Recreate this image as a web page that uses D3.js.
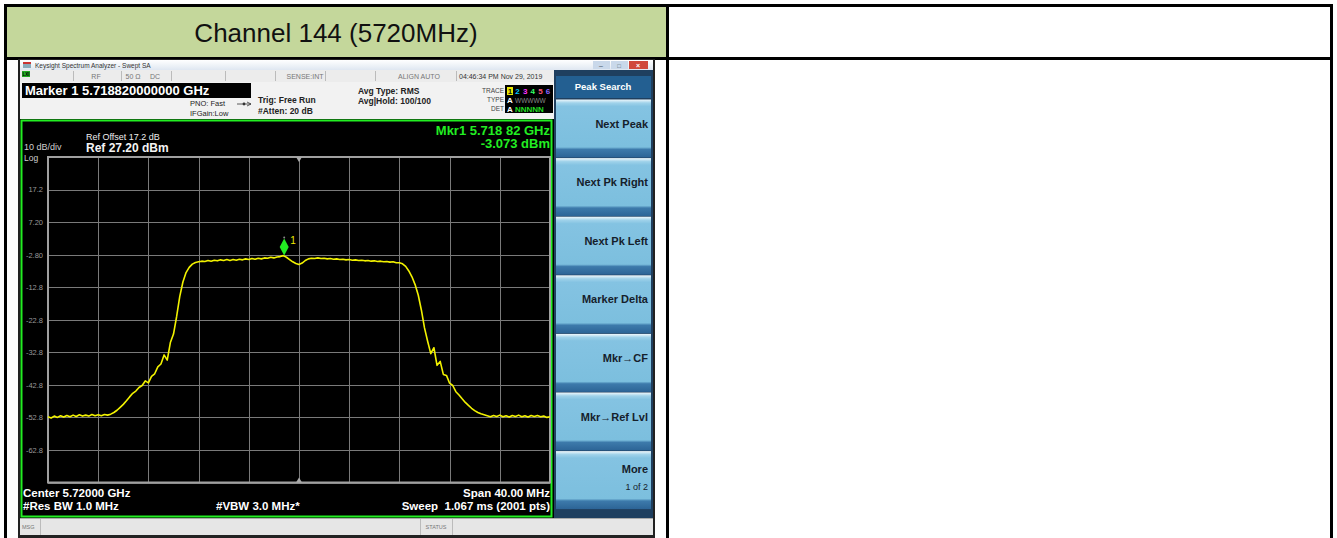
<!DOCTYPE html>
<html><head><meta charset="utf-8">
<script src="https://cdn.jsdelivr.net/npm/d3@7"></script>
<style>body{margin:0;background:#fff}svg{display:block}</style>
</head><body>
<svg id="c" width="1337" height="538"></svg>
<script>
// ---------------- data ----------------
const headerTitle = "Channel 144 (5720MHz)";
const centerGHz = 5.72;
const spanMHz = 40;
const refLevelDbm = 27.2;
const dbPerDiv = 10;
const numDivs = 10;
const yTickValues = [17.2, 7.2, -2.8, -12.8, -22.8, -32.8, -42.8, -52.8, -62.8];
const yTickLabels = ["17.2", "7.20", "-2.80", "-12.8", "-22.8", "-32.8", "-42.8", "-52.8", "-62.8"];
const traceStepMHz = 0.25; // offset from start frequency, per sample
const traceDbm = [
  -52.6,-53.0,-52.4,-52.8,-52.3,-52.7,-52.2,-52.6,-52.1,-52.5,-52.0,-52.4,-52.1,-52.4,-51.9,-52.3,-52.0,-52.3,-51.9,-52.1,
  -51.8,-51.3,-50.6,-49.7,-48.8,-47.7,-46.5,-45.4,-44.7,-43.6,-43.0,-41.6,-42.2,-40.2,-39.4,-37.3,-36.4,-33.6,-35.2,-29.8,
  -27.2,-21.8,-15.6,-11.2,-8.3,-6.7,-5.7,-5.2,-5.0,-4.8,-4.9,-4.6,-4.8,-4.5,-4.7,-4.4,-4.6,-4.3,-4.6,-4.3,
  -4.5,-4.2,-4.4,-4.1,-4.3,-4.0,-4.2,-3.9,-4.1,-3.8,-3.9,-3.6,-3.8,-3.5,-3.4,-3.1,-3.6,-4.3,-5.0,-5.5,
  -5.8,-5.4,-4.6,-4.1,-3.9,-4.0,-3.8,-4.0,-3.9,-4.1,-4.0,-4.2,-4.1,-4.3,-4.2,-4.4,-4.3,-4.5,-4.4,-4.6,
  -4.5,-4.7,-4.6,-4.8,-4.7,-4.9,-4.8,-5.0,-4.9,-5.1,-5.0,-5.3,-5.3,-5.6,-6.4,-7.8,-9.6,-12.0,-15.2,-19.8,
  -25.3,-29.4,-33.2,-31.4,-36.8,-35.6,-39.6,-39.9,-42.3,-43.0,-44.9,-45.9,-47.1,-48.2,-49.1,-50.0,-50.7,-51.3,-51.7,-52.0,
  -52.3,-52.6,-52.2,-52.5,-52.1,-52.6,-52.3,-52.7,-52.2,-52.5,-52.1,-52.6,-52.3,-52.7,-52.2,-52.5,-52.2,-52.6,-52.4,-52.8,
  -52.6
];
const markerFreqGHz = 5.71882;
const markerDbm = -3.073;
const softkeyLabels = ["Next Peak", "Next Pk Right", "Next Pk Left", "Marker Delta", "Mkr\u2192CF", "Mkr\u2192Ref Lvl", "More"];
const traceNums = ["1","2","3","4","5","6"];
const traceNumColors = ["#111","#00c8ff","#ff33ff","#33ff66","#ff5577","#8866ff"];

// ---------------- drawing ----------------
const svg = d3.select("#c");
const F = "'Liberation Sans', Arial, sans-serif";

// page table
svg.append("rect").attr("x",7).attr("y",7).attr("width",659).attr("height",50).attr("fill","#c4d79b");
const blk = (x,y,w,h,c)=>svg.append("rect").attr("x",x).attr("y",y).attr("width",w).attr("height",h).attr("fill",c||"#000");
blk(4,4,1329,3); blk(4,4,3,534); blk(1330,4,3,534); blk(4,57,1329,3); blk(666,4,3,534);
svg.append("text").attr("x",336).attr("y",42).attr("text-anchor","middle")
  .attr("font-family",F).attr("font-size",26).attr("fill","#111").text(headerTitle);

// analyzer window frame
const g = svg.append("g");
const r = (x,y,w,h,c)=>g.append("rect").attr("x",x).attr("y",y).attr("width",w).attr("height",h).attr("fill",c);
const t = (x,y,s,txt,o={})=>g.append("text").attr("x",x).attr("y",y).attr("font-family",F)
  .attr("font-size",s).attr("font-weight",o.b?"bold":"normal").attr("fill",o.c||"#222")
  .attr("text-anchor",o.a||"start").text(txt);

r(18,59,637,479,"#222");
// title bar
const tg = svg.append("defs").append("linearGradient").attr("id","tb").attr("x1",0).attr("y1",0).attr("x2",0).attr("y2",1);
tg.append("stop").attr("offset","0").attr("stop-color","#ffffff");
tg.append("stop").attr("offset","1").attr("stop-color","#dfe7f1");
r(20,60,633,10,"url(#tb)");
r(23,62,8,2,"#c33"); r(23,64,8,4,"#8ab");
t(35,68,6.5,"Keysight Spectrum Analyzer - Swept SA",{c:"#333"});
r(593,61,17,8,"#c9d8ea"); r(611,61,17,8,"#c9d8ea"); r(629,61,19,8,"#d0483c");
t(601,68,7,"\u2013",{c:"#456",a:"middle"}); t(619,68,6,"\u25a1",{c:"#456",a:"middle"}); t(638,68,7,"\u00d7",{c:"#fff",a:"middle",b:1});
// status row
r(20,70,534,12,"#ececec");
r(22,71,8,6,"#22aa22"); t(26,76,4.5,"LXI",{c:"#000",a:"middle",b:1});
[73,121,171,225,275,325,375,456].forEach(x=>r(x,71,1,10,"#bbb"));
t(96,79,7,"RF",{c:"#777",a:"middle"});
t(133,79,7,"50 \u03a9",{c:"#777",a:"middle"});
t(155,79,7,"DC",{c:"#777",a:"middle"});
t(305,79,7,"SENSE:INT",{c:"#777",a:"middle"});
t(419,79,7,"ALIGN AUTO",{c:"#777",a:"middle"});
t(459,79,7,"04:46:34 PM Nov 29, 2019",{c:"#333"});
// info area
r(20,82,534,37,"#f2f2f2");
r(22,83,229,15,"#000");
t(25,95,13,"Marker 1 5.718820000000 GHz",{c:"#fff",b:1});
t(190,106,7.5,"PNO: Fast",{c:"#222"});
t(190,116,7.5,"IFGain:Low",{c:"#222"});
g.append("path").attr("d","M237,104 H251 M247,102 L251,104 L247,106").attr("stroke","#333").attr("fill","none").attr("stroke-width",0.8);
g.append("circle").attr("cx",244).attr("cy",104).attr("r",1.4).attr("fill","#333");
t(258,103,8.5,"Trig: Free Run",{b:1});
t(258,114,8.5,"#Atten: 20 dB",{b:1});
t(358,94,8.5,"Avg Type: RMS",{b:1});
t(358,104,8.5,"Avg|Hold: 100/100",{b:1});
t(504,93,6.5,"TRACE",{c:"#444",a:"end"});
t(504,102,6.5,"TYPE",{c:"#444",a:"end"});
t(504,111,6.5,"DET",{c:"#444",a:"end"});
r(505,85,48,28,"#000");
r(507,87,6,8,"#e8e800");
traceNums.forEach((n,i)=>t(510+i*7.6,94,8,n,{c:traceNumColors[i],a:"middle",b:1}));
t(510,103,8,"A",{c:"#fff",a:"middle",b:1});
t(515,103,6.5,"WWWWW",{c:"#888"});
t(510,112,8,"A",{c:"#fff",a:"middle",b:1});
t(515,112,8,"NNNNN",{c:"#22dd22",b:1});

// display
r(20,119,534,399,"#000");
g.append("rect").attr("x",21.5).attr("y",120.5).attr("width",530).attr("height",396)
  .attr("fill","none").attr("stroke","#22ee22").attr("stroke-width",2);

// softkey panel
r(554,70,99,448,"#1f3f5f");
r(556,76,95,22,"#235f91");
t(603,90,9.5,"Peak Search",{c:"#fff",a:"middle",b:1});
const kg = svg.select("defs").append("linearGradient").attr("id","kg").attr("x1",0).attr("y1",0).attr("x2",0).attr("y2",1);
[[0,"#f0f8fc"],[0.06,"#9fd2ea"],[0.12,"#84c3e2"],[0.82,"#7cbfde"],[0.86,"#3d7aab"],[1,"#2c6496"]]
  .forEach(([o,c])=>kg.append("stop").attr("offset",o).attr("stop-color",c));
const keyTop = 99.5, keyPitch = 58.6;
softkeyLabels.forEach((lab,i)=>{
  const y0 = keyTop + i*keyPitch;
  r(556,y0,95,keyPitch-0.6,"url(#kg)");
  if(i===softkeyLabels.length-1){
    t(648,y0+22,11,lab,{c:"#15202b",a:"end",b:1});
    t(648,y0+39,9,"1 of 2",{c:"#15202b",a:"end"});
  } else {
    t(648,y0+28,11,lab,{c:"#15202b",a:"end",b:1});
  }
});
// status bar
r(20,518,633,17,"#e6e6e6");
r(20,518,633,1,"#aaa");
r(40,519,1,16,"#bbb"); r(420,519,1,16,"#bbb"); r(452,519,1,16,"#bbb");
t(22,529,5.5,"MSG",{c:"#777"});
t(436,529,5.5,"STATUS",{c:"#777",a:"middle"});

// ---------------- plot ----------------
const x = d3.scaleLinear().domain([centerGHz - spanMHz/2000, centerGHz + spanMHz/2000]).range([48, 550]);
const y = d3.scaleLinear().domain([refLevelDbm - dbPerDiv*numDivs, refLevelDbm]).range([482.5, 157]);
const plot = svg.append("g");

const xGrid = d3.range(numDivs+1).map(i=>x.domain()[0] + i*(x.domain()[1]-x.domain()[0])/numDivs);
const yGrid = d3.range(numDivs+1).map(i=>y.domain()[0] + i*dbPerDiv);
plot.append("g")
  .call(d3.axisBottom(x).tickValues(xGrid).tickSize(y.range()[1]-y.range()[0]).tickFormat(""))
  .attr("transform",`translate(0,${y.range()[0]})`)
  .call(s=>{s.select(".domain").remove(); s.selectAll("line").attr("stroke","#7a7a7a").attr("stroke-width",1).attr("shape-rendering","crispEdges");});
plot.append("g").attr("transform",`translate(${x.range()[0]},0)`)
  .call(d3.axisLeft(y).tickValues(yGrid).tickSize(-(x.range()[1]-x.range()[0])).tickFormat(""))
  .call(s=>{s.select(".domain").remove(); s.selectAll("line").attr("stroke","#7a7a7a").attr("stroke-width",1).attr("shape-rendering","crispEdges");});
plot.append("rect").attr("x",x.range()[0]).attr("y",y.range()[1]).attr("width",x.range()[1]-x.range()[0])
  .attr("height",y.range()[0]-y.range()[1]).attr("fill","none").attr("stroke","#a0a0a0").attr("stroke-width",2);

// y tick labels
const yl = plot.append("g").attr("transform","translate(43,0)")
  .call(d3.axisLeft(y).tickValues(yTickValues).tickSize(0).tickPadding(0).tickFormat((d,i)=>yTickLabels[i]));
yl.select(".domain").remove();
yl.selectAll("text").attr("font-family",F).attr("font-size",7.5).attr("fill","#9a9a9a");

// center triangles
const cx = x(centerGHz);
plot.append("path").attr("d",`M${cx-3},${y.range()[1]} L${cx+3},${y.range()[1]} L${cx},${y.range()[1]+5}Z`).attr("fill","#aaa");
plot.append("path").attr("d",`M${cx-3},${y.range()[0]} L${cx+3},${y.range()[0]} L${cx},${y.range()[0]-5}Z`).attr("fill","#aaa");

// trace
const f0 = x.domain()[0];
const pts = traceDbm.map((v,i)=>[f0 + i*traceStepMHz/1000, v]);
plot.append("path").datum(pts)
  .attr("d", d3.line().x(d=>x(d[0])).y(d=>y(d[1])))
  .attr("fill","none").attr("stroke","#f2f200").attr("stroke-width",1.6).attr("stroke-linejoin","round");

// marker
const mx = x(markerFreqGHz), my = y(markerDbm);
plot.append("path").attr("d",`M${mx},${my} L${mx+4.5},${my-8.5} L${mx},${my-17} L${mx-4.5},${my-8.5}Z`).attr("fill","#22ee22");
plot.append("circle").attr("cx",mx).attr("cy",my-18).attr("r",1).attr("fill","#888");
plot.append("text").attr("x",mx+6).attr("y",my-12).attr("font-family",F).attr("font-size",10).attr("fill","#eeee00").text("1");

// annotations
const at = (xx,yy,s,txt,o={})=>plot.append("text").attr("x",xx).attr("y",yy).attr("font-family",F)
  .attr("font-size",s).attr("font-weight",o.b?"bold":"normal").attr("fill",o.c||"#fff").attr("text-anchor",o.a||"start").text(txt);
at(24,150,9,"10 dB/div",{c:"#cfcfcf"});
at(24,160.5,8.5,"Log",{c:"#cfcfcf"});
at(86,140,9,"Ref Offset 17.2 dB",{c:"#eee"});
at(86,152,12,"Ref 27.20 dBm",{b:1,c:"#f4f4f4"});
at(550,135,13,"Mkr1 5.718 82 GHz",{b:1,c:"#22ee22",a:"end"});
at(550,148,13,"-3.073 dBm",{b:1,c:"#22ee22",a:"end"});
at(23,497,11.5,"Center 5.72000 GHz",{b:1});
at(23,510,11.5,"#Res BW 1.0 MHz",{b:1});
at(216,510,11.5,"#VBW 3.0 MHz*",{b:1});
at(550,497,11.5,"Span 40.00 MHz",{b:1,a:"end"});
at(550,510,11.5,"Sweep  1.067 ms (2001 pts)",{b:1,a:"end"}).style("white-space","pre");
</script>
</body></html>
